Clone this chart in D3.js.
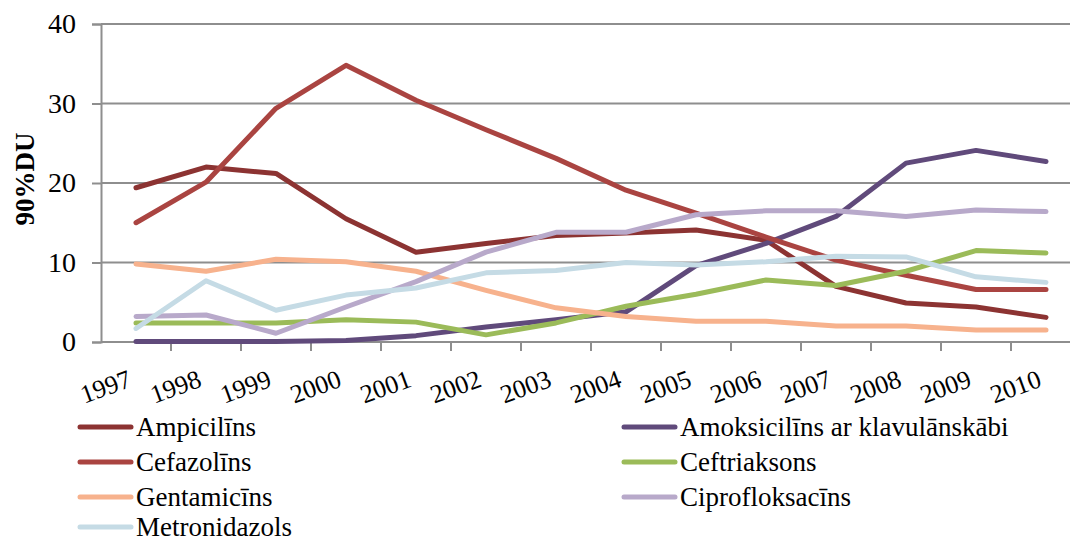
<!DOCTYPE html>
<html>
<head>
<meta charset="utf-8">
<script src="https://cdn.jsdelivr.net/npm/d3@7"></script>
<style>
  html, body { margin: 0; padding: 0; background: #fff; }
  svg { display: block; }
</style>
</head>
<body>
<div id="chart"></div>
<script>
// Years on the category axis
const years = ["1997","1998","1999","2000","2001","2002","2003","2004","2005","2006","2007","2008","2009","2010"];

// 90%DU share per antibiotic, by year
const ampicilins   = [19.4, 22.0, 21.2, 15.5, 11.3, 12.4, 13.4, 13.7, 14.1, 12.8, 7.0, 4.9, 4.4, 3.1];
const amoksicilins = [0.05, 0.05, 0.05, 0.2, 0.8, 1.9, 2.8, 3.8, 9.6, 12.4, 15.8, 22.5, 24.1, 22.7];
const cefazolins   = [15.0, 20.1, 29.4, 34.8, 30.4, 26.7, 23.1, 19.1, 16.2, 13.2, 10.3, 8.4, 6.6, 6.6];
const ceftriaksons = [2.4, 2.4, 2.4, 2.8, 2.5, 0.9, 2.4, 4.5, 6.0, 7.8, 7.1, 8.9, 11.5, 11.2];
const gentamicins  = [9.8, 8.9, 10.4, 10.1, 8.9, 6.5, 4.3, 3.2, 2.6, 2.6, 2.0, 2.0, 1.5, 1.5];
const ciprofloksacins = [3.2, 3.4, 1.1, 4.4, 7.6, 11.3, 13.8, 13.8, 16.0, 16.5, 16.5, 15.8, 16.6, 16.4];
const metronidazols = [1.7, 7.7, 4.0, 5.9, 6.8, 8.7, 9.0, 10.0, 9.7, 10.1, 10.8, 10.7, 8.2, 7.5];

const seriesNames = ["Ampicilīns", "Amoksicilīns ar klavulānskābi", "Cefazolīns", "Ceftriaksons",
                     "Gentamicīns", "Ciprofloksacīns", "Metronidazols"];
const seriesValues = [ampicilins, amoksicilins, cefazolins, ceftriaksons, gentamicins, ciprofloksacins, metronidazols];
const seriesColors = ["#8C3332", "#604A7B", "#AA4441", "#9BBB59", "#F7B28D", "#B8A9CA", "#C5DBE5"];

const yTicks = [0, 10, 20, 30, 40];
const yTitle = "90%DU";

const W = 1070, H = 542;
const FONT = "Liberation Serif, Tinos, Nimbus Roman, FreeSerif, Noto Serif, DejaVu Serif, Times New Roman, Times, serif";
const svg = d3.select("#chart").append("svg").attr("width", W).attr("height", H)
  .attr("font-family", FONT);

const x = d3.scaleBand().domain(years).range([101, 1081]).paddingInner(0).paddingOuter(0);
const y = d3.scaleLinear().domain([0, 40]).range([342, 24]);
const gridColor = "#8E8E8E";

// Horizontal gridlines
svg.append("g").selectAll("line").data(yTicks.filter(d => d > 0)).join("line")
  .attr("x1", 101).attr("x2", 1081)
  .attr("y1", d => y(d)).attr("y2", d => y(d))
  .attr("stroke", gridColor).attr("stroke-width", 2);

// Y axis
const yAxis = svg.append("g").attr("transform", "translate(101,0)")
  .call(d3.axisLeft(y).tickValues(yTicks).tickSize(9).tickPadding(16));
yAxis.attr("font-family", FONT).attr("font-size", 28);
yAxis.select(".domain").attr("stroke", gridColor).attr("stroke-width", 2);
yAxis.selectAll(".tick line").attr("stroke", gridColor).attr("stroke-width", 2);
yAxis.selectAll(".tick text").attr("fill", "#000");

// X axis: ticks on category boundaries
svg.append("line").attr("x1", 101).attr("x2", 1081).attr("y1", y(0)).attr("y2", y(0))
  .attr("stroke", gridColor).attr("stroke-width", 2);
svg.append("g").selectAll("line").data(years.slice(1)).join("line")
  .attr("x1", d => x(d)).attr("x2", d => x(d))
  .attr("y1", y(0)).attr("y2", y(0) + 9)
  .attr("stroke", gridColor).attr("stroke-width", 2);

// Rotated year labels, ending under each category centre
svg.append("g").selectAll("text").data(years).join("text")
  .attr("transform", d => `translate(${x(d) + x.bandwidth() / 2 - 3},386) rotate(-20)`)
  .attr("text-anchor", "end")
  .attr("font-size", 26)
  .text(d => d);

// Y axis title
svg.append("text")
  .attr("transform", "translate(34,179) rotate(-90)")
  .attr("text-anchor", "middle")
  .attr("font-size", 27).attr("font-weight", "bold")
  .text(yTitle);

// Series lines
const line = d3.line()
  .x((d, i) => x(years[i]) + x.bandwidth() / 2)
  .y(d => y(d));
svg.append("g").selectAll("path").data(seriesValues).join("path")
  .attr("d", d => line(d))
  .attr("fill", "none")
  .attr("stroke", (d, i) => seriesColors[i])
  .attr("stroke-width", 5)
  .attr("stroke-linejoin", "round")
  .attr("stroke-linecap", "round");

// Legend in two columns
const legendPos = [
  [78, 427], [622, 427],
  [78, 462], [622, 462],
  [78, 497], [622, 497],
  [78, 527]
];
const legend = svg.append("g").selectAll("g").data(seriesNames).join("g")
  .attr("transform", (d, i) => `translate(${legendPos[i][0]},${legendPos[i][1]})`);
legend.append("line")
  .attr("x1", 2).attr("x2", 53).attr("y1", 0).attr("y2", 0)
  .attr("stroke", (d, i) => seriesColors[i])
  .attr("stroke-width", 5).attr("stroke-linecap", "round");
legend.append("text")
  .attr("x", 58).attr("y", 9)
  .attr("font-size", 27)
  .text(d => d);
</script>
</body>
</html>
